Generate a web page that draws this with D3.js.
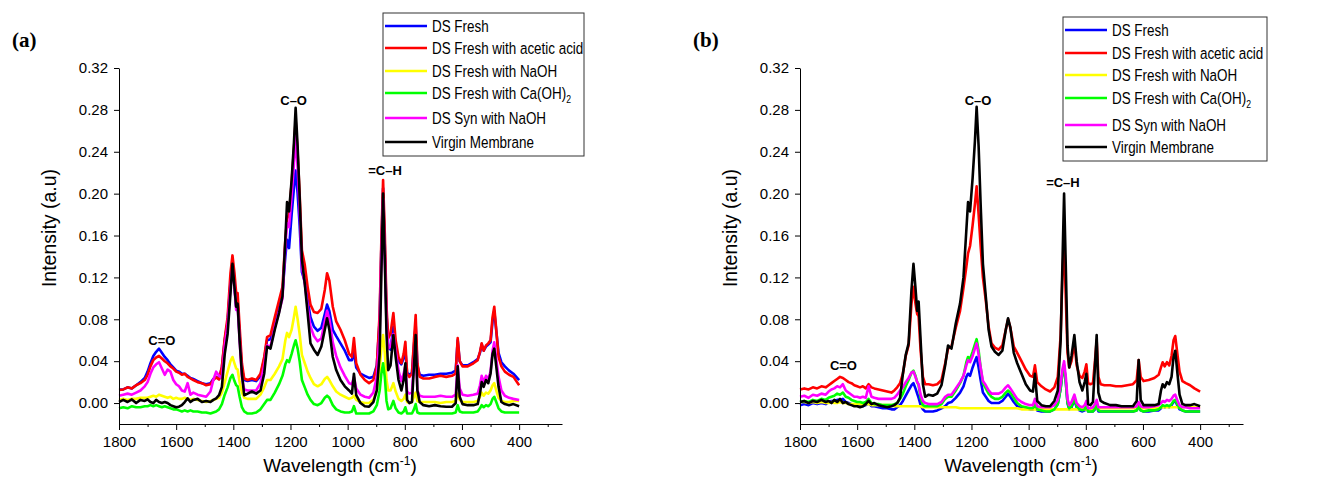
<!DOCTYPE html>
<html>
<head>
<meta charset="utf-8">
<script src="https://cdn.jsdelivr.net/npm/d3@7"></script>
<style>
  body { margin: 0; background: #fff; }
  svg { display: block; }
</style>
</head>
<body>
<svg id="chart" width="1325" height="484"></svg>
<script>

// wavenumber grid shared by every spectrum (cm-1)
const wavenumbers = [
  1800,1785,1770,1755,1740,1725,1710,1700,1690,1680,
  1670,1660,1650,1640,1630,1620,1610,1600,1590,1580,
  1570,1560,1550,1540,1525,1510,1495,1480,1470,1460,
  1450,1440,1430,1420,1410,1403,1396,1390,1385,1378,
  1370,1362,1350,1335,1320,1305,1292,1282,1270,1255,
  1240,1228,1218,1212,1205,1196,1188,1182,1175,1168,
  1160,1150,1140,1130,1118,1105,1092,1080,1072,1064,
  1052,1040,1025,1010,995,985,978,970,955,940,
  925,910,898,888,882,876,870,864,858,850,
  840,832,822,812,804,798,792,784,775,768,
  762,756,748,735,715,695,675,655,635,622,
  615,608,598,580,560,545,537,531,524,516,
  508,500,493,487,480,472,462,450,435,420,
  400]

const seriesNames = ['DS Fresh', 'DS Fresh with acetic acid', 'DS Fresh with NaOH',
                     'DS Fresh with Ca(OH)2', 'DS Syn with NaOH', 'Virgin Membrane']
const seriesColors = ['#0000ff', '#ff0000', '#ffff00', '#00ff00', '#ff00ff', '#000000']

// ---- panel (a) ----
const aFresh = [
  .013,.013,.015,.014,.017,.020,.024,.030,.038,.045,
  .049,.052,.048,.044,.041,.037,.034,.031,.030,.028,
  .028,.026,.024,.023,.021,.019,.018,.019,.023,.025,
  .023,.034,.060,.078,.115,.133,.112,.092,.097,.065,
  .033,.022,.021,.022,.021,.026,.042,.060,.061,.078,
  .093,.105,.140,.156,.148,.180,.205,.222,.200,.170,
  .125,.116,.098,.082,.073,.069,.072,.085,.094,.088,
  .070,.064,.057,.050,.041,.041,.049,.034,.028,.026,
  .024,.025,.036,.080,.150,.205,.150,.085,.055,.051,
  .073,.055,.040,.037,.043,.050,.029,.027,.029,.055,
  .075,.036,.027,.026,.027,.027,.028,.028,.029,.031,
  .060,.040,.036,.036,.039,.042,.048,.056,.050,.054,
  .056,.058,.078,.088,.069,.048,.039,.035,.031,.028,
  .022]
const aAcetic = [
  .0124,.013,.015,.014,.017,.019,.022,.027,.035,.041,
  .0435,.045,.0425,.040,.038,.035,.033,.030,.029,.027,
  .028,.025,.0235,.022,.020,.019,.017,.018,.022,.0245,
  .0225,.035,.062,.082,.124,.141,.124,.105,.105,.073,
  .038,.0235,.022,.0235,.022,.028,.044,.063,.065,.082,
  .098,.111,.156,.176,.180,.210,.242,.270,.239,.200,
  .146,.132,.111,.094,.087,.086,.090,.108,.124,.117,
  .092,.078,.070,.060,.047,.044,.062,.038,.027,.022,
  .019,.022,.035,.086,.156,.213,.162,.092,.062,.0665,
  .086,.060,.044,.038,.047,.0585,.028,.025,.028,.060,
  .084,.038,.025,.0235,.0235,.025,.026,.025,.026,.028,
  .062,.040,.035,.035,.038,.041,.049,.057,.050,.055,
  .057,.060,.082,.092,.070,.044,.035,.030,.027,.025,
  .017]
const aNaOH = [
  .003,.004,.003,.004,.004,.005,.005,.005,.006,.007,
  .006,.008,.007,.006,.005,.006,.004,.005,.004,.004,
  .005,.004,.003,.004,.003,.002,.001,.002,.003,.004,
  .005,.010,.020,.030,.040,.044,.038,.033,.032,.020,
  .010,.005,.004,.004,.004,.008,.015,.022,.022,.028,
  .035,.042,.060,.067,.063,.070,.082,.092,.080,.066,
  .046,.038,.030,.024,.018,.016,.018,.023,.025,.022,
  .016,.011,.008,.006,.004,.005,.007,.003,.001,0,
  0,.003,.012,.032,.052,.065,.048,.022,.012,.012,
  .019,.011,.004,.002,.004,.008,.001,0,.001,.006,
  .010,.002,.001,.001,.001,.001,0,.001,.001,.002,
  .009,.003,.001,.001,.001,.002,.006,.010,.007,.010,
  .009,.012,.017,.019,.012,.005,.002,.001,.001,.002,
  .002]
const aCaOH = [
  -.005,-.004,-.005,-.003,-.004,-.004,-.003,-.003,-.002,-.003,
  -.002,-.003,-.004,-.003,-.004,-.005,-.006,-.006,-.007,-.008,
  -.007,-.008,-.007,-.008,-.008,-.009,-.009,-.010,-.009,-.008,
  -.006,-.001,.008,.015,.024,.027,.021,.017,.016,.006,
  -.004,-.008,-.010,-.010,-.009,-.006,-.001,.003,.003,.010,
  .018,.026,.037,.041,.039,.047,.055,.060,.052,.040,
  .022,.015,.008,.003,-.001,-.002,0,.005,.007,.005,
  -.002,-.006,-.008,-.009,-.009,-.008,-.003,-.010,-.010,-.010,
  -.010,-.008,-.002,.012,.028,.038,.025,.002,-.006,-.005,
  .002,-.005,-.009,-.010,-.008,-.004,-.010,-.010,-.010,-.006,
  -.001,-.009,-.010,-.010,-.010,-.010,-.010,-.010,-.010,-.009,
  -.002,-.008,-.009,-.009,-.009,-.008,-.005,-.002,-.004,-.002,
  -.003,-.001,.004,.006,.001,-.005,-.008,-.009,-.009,-.009,
  -.009]
const aSyn = [
  .007,.008,.009,.008,.010,.012,.016,.020,.028,.034,
  .037,.039,.033,.027,.032,.030,.022,.018,.016,.012,
  .011,.019,.008,.010,.008,.007,.006,.011,.022,.030,
  .026,.024,.055,.075,.110,.130,.110,.089,.092,.060,
  .025,.013,.012,.012,.012,.019,.036,.055,.054,.072,
  .087,.100,.150,.172,.168,.198,.228,.255,.225,.185,
  .130,.114,.092,.073,.064,.059,.062,.078,.088,.080,
  .058,.045,.034,.026,.019,.018,.025,.014,.008,.006,
  .005,.010,.025,.068,.140,.195,.140,.075,.052,.054,
  .066,.050,.031,.021,.028,.036,.011,.009,.010,.040,
  .060,.012,.007,.006,.006,.006,.007,.006,.006,.008,
  .036,.014,.008,.007,.008,.009,.017,.026,.020,.026,
  .023,.030,.050,.058,.042,.025,.012,.007,.005,.004,
  .003]
const aVirgin = [
  .001,.003,.001,.0035,0,.003,.002,.0035,.001,0,
  .003,.001,0,.001,0,-.002,-.003,-.004,-.0035,-.002,
  .001,.0045,.001,.003,.004,.001,.002,.001,.003,.0045,
  .0075,.0155,.047,.066,.105,.133,.111,.092,.095,.060,
  .028,.0075,.009,.011,.009,.012,.028,.054,.052,.070,
  .086,.102,.156,.192,.183,.213,.248,.282,.245,.197,
  .137,.114,.086,.057,.051,.046,.054,.070,.081,.070,
  .044,.0315,.022,.016,.012,.009,.028,.0075,0,-.003,
  -.0035,.001,.012,.047,.124,.200,.137,.066,.0315,.036,
  .065,.044,.022,.012,.022,.038,.003,0,.001,.035,
  .065,.012,.001,-.002,-.003,-.002,-.003,-.0035,-.0035,0,
  .035,.006,-.001,-.002,-.002,-.001,.009,.020,.0155,.022,
  .019,.028,.047,.052,.035,.0155,.001,-.001,-.002,-.001,
  -.003]

// ---- panel (b) ----
const bFresh = [
  -.002,-.001,-.002,0,-.001,0,-.001,.001,.002,.002,
  .003,.003,.004,.001,0,-.001,-.002,-.002,-.002,-.003,
  -.002,0,-.003,-.003,-.004,-.005,-.005,-.006,-.006,-.004,
  -.002,.002,.007,.012,.017,.019,.014,.009,.005,-.002,
  -.006,-.008,-.008,-.008,-.007,-.005,-.003,0,.001,.005,
  .010,.016,.025,.028,.026,.034,.040,.044,.034,.022,
  .010,.006,.002,0,0,0,.002,.006,.009,.006,
  .001,-.003,-.005,-.005,-.006,-.006,-.002,-.007,-.008,-.008,
  -.008,-.006,-.001,.014,.028,.036,.020,0,-.006,-.004,
  .003,-.004,-.007,-.008,-.007,-.003,-.008,-.008,-.008,-.006,
  -.003,-.008,-.008,-.008,-.008,-.008,-.008,-.008,-.008,-.007,
  -.004,-.007,-.008,-.008,-.007,-.007,-.005,-.003,-.004,-.003,
  -.004,-.002,.001,.002,-.002,-.006,-.007,-.008,-.008,-.008,
  -.008]
const bAcetic = [
  .013,.014,.013,.015,.014,.016,.015,.017,.019,.021,
  .023,.025,.024,.022,.020,.019,.017,.016,.015,.016,
  .014,.018,.015,.014,.013,.012,.011,.010,.012,.015,
  .019,.028,.045,.055,.095,.111,.095,.085,.083,.050,
  .025,.018,.018,.017,.018,.022,.038,.052,.054,.072,
  .088,.110,.130,.143,.150,.170,.190,.207,.180,.150,
  .120,.098,.073,.057,.053,.051,.055,.070,.080,.072,
  .054,.048,.040,.032,.026,.025,.036,.020,.016,.013,
  .011,.015,.025,.065,.120,.155,.100,.048,.034,.040,
  .058,.036,.026,.024,.030,.037,.019,.018,.019,.040,
  .060,.025,.018,.017,.017,.016,.016,.017,.018,.022,
  .041,.025,.021,.022,.024,.027,.034,.039,.035,.039,
  .036,.045,.060,.064,.048,.030,.021,.019,.017,.014,
  .011]
const bNaOH = [
  .001,.001,0,.001,0,.001,0,0,.001,0,
  0,.001,0,0,-.001,-.001,-.001,-.001,-.001,-.002,
  -.001,-.001,-.002,-.002,-.002,-.002,-.002,-.002,-.003,-.003,
  -.003,-.003,-.003,-.003,-.003,-.003,-.003,-.003,-.003,-.003,
  -.004,-.004,-.004,-.004,-.004,-.004,-.004,-.004,-.004,-.004,
  -.005,-.005,-.005,-.005,-.005,-.005,-.005,-.005,-.005,-.005,
  -.005,-.005,-.005,-.005,-.005,-.005,-.005,-.005,-.005,-.005,
  -.005,-.005,-.006,-.006,-.006,-.006,-.006,-.006,-.006,-.006,
  -.006,-.006,-.006,-.006,-.006,-.006,-.006,-.006,-.006,-.006,
  -.006,-.006,-.006,-.006,-.006,-.006,-.006,-.006,-.005,-.005,
  -.005,-.005,-.005,-.005,-.005,-.005,-.005,-.005,-.005,-.005,
  -.005,-.005,-.005,-.005,-.005,-.005,-.004,-.004,-.004,-.004,
  -.004,-.004,-.004,-.004,-.004,-.004,-.004,-.004,-.004,-.004,
  -.004]
const bCaOH = [
  .001,.002,.001,.003,.002,.004,.003,.005,.006,.007,
  .009,.008,.010,.006,.005,.003,.002,.001,.001,0,
  .001,.004,0,-.001,-.001,-.002,-.002,-.002,-.001,0,
  .004,.009,.016,.022,.029,.031,.026,.020,.017,.005,
  -.002,-.003,-.003,-.003,-.003,-.001,.004,.006,.006,.012,
  .019,.026,.039,.044,.042,.049,.056,.061,.050,.034,
  .019,.014,.009,.006,.004,.004,.006,.010,.012,.010,
  .005,0,-.003,-.004,-.005,-.005,-.001,-.006,-.007,-.008,
  -.008,-.006,-.001,.014,.028,.035,.020,0,-.005,-.003,
  .004,-.003,-.006,-.007,-.006,-.002,-.008,-.008,-.008,-.005,
  -.002,-.007,-.008,-.008,-.008,-.008,-.008,-.008,-.008,-.007,
  -.003,-.007,-.008,-.007,-.007,-.006,-.004,-.002,-.003,-.002,
  -.003,-.001,.002,.003,-.001,-.005,-.007,-.008,-.008,-.008,
  -.008]
const bSyn = [
  .006,.007,.005,.008,.007,.009,.008,.011,.013,.014,
  .016,.015,.018,.012,.010,.008,.006,.006,.005,.006,
  .005,.016,.006,.005,.004,.004,.004,.004,.005,.008,
  .012,.015,.020,.024,.029,.030,.025,.020,.018,.008,
  .002,0,-.001,-.001,-.001,.001,.006,.008,.008,.014,
  .020,.026,.036,.041,.039,.045,.052,.057,.046,.034,
  .021,.017,.012,.009,.009,.009,.011,.015,.017,.014,
  .009,.004,.001,-.001,-.002,-.002,.004,-.003,-.004,-.004,
  -.004,-.002,.003,.018,.032,.040,.025,.004,-.002,.001,
  .008,0,-.003,-.004,-.002,.002,-.005,-.005,-.004,-.001,
  .003,-.004,-.004,-.004,-.004,-.004,-.004,-.004,-.004,-.003,
  .001,-.003,-.004,-.004,-.003,-.002,0,.002,.001,.003,
  .002,.004,.007,.008,.003,-.002,-.004,-.004,-.005,-.005,
  -.005]
const bVirgin = [
  .001,.002,0,.002,.001,.003,.001,.002,0,.003,
  .001,.004,0,.001,-.001,-.002,-.003,-.003,-.004,-.003,
  -.001,.002,-.001,0,-.002,-.003,-.004,-.003,-.002,0,
  .005,.028,.046,.057,.108,.133,.110,.088,.097,.060,
  .018,.006,.008,.007,.009,.017,.036,.055,.052,.076,
  .095,.120,.165,.192,.183,.215,.250,.283,.245,.190,
  .133,.102,.070,.054,.049,.046,.050,.070,.081,.072,
  .048,.038,.028,.018,.012,.011,.028,.002,-.002,-.003,
  -.003,.002,.012,.060,.130,.200,.130,.055,.034,.045,
  .065,.040,.020,.012,.020,.028,-.001,-.002,.001,.035,
  .065,.010,.002,0,-.002,-.002,-.003,-.003,-.003,.002,
  .041,.003,-.002,-.002,-.002,-.001,.012,.018,.015,.020,
  .018,.025,.044,.050,.030,.008,-.001,-.002,-.002,-.001,
  -.003]

const xTicks = [1800, 1600, 1400, 1200, 1000, 800, 600, 400]
const xMinorTicks = [1700, 1500, 1300, 1100, 900, 700, 500, 300]
const yTicks = [0, 0.04, 0.08, 0.12, 0.16, 0.20, 0.24, 0.28, 0.32]

// band labels: text, wavenumber, intensity of the text baseline
const bandLabelsA = [['C=O', 1650, 0.055], ['C\u2013O', 1189, 0.285], ['=C\u2013H', 869, 0.218]]
const bandLabelsB = [['C=O', 1648, 0.032], ['C\u2013O', 1177, 0.285], ['=C\u2013H', 880, 0.206]]

const font = '"Liberation Sans", Arial, sans-serif'
const svg = d3.select('#chart')

function panel(opts) {

    const x = d3.scaleLinear().domain([1800, 250]).range([opts.left, opts.left + 443])
    const y = d3.scaleLinear().domain([-0.02, 0.32]).range([424, 68])

    const g = svg.append('g')

    // spectra, drawn in legend order so black ends up on top
    const line = d3.line().x(d => x(d[0])).y(d => y(d[1]))
    opts.series.forEach((vals, i) => {
        g.append('path')
            .datum(wavenumbers.map((w, k) => [w, vals[k]]))
            .attr('fill', 'none')
            .attr('stroke', seriesColors[i])
            .attr('stroke-width', 2.6)
            .attr('stroke-linejoin', 'round')
            .attr('d', line)
    })

    // axes
    g.append('g')
        .attr('transform', 'translate(0,424)')
        .call(d3.axisBottom(x).tickValues(xMinorTicks).tickSize(3).tickFormat(''))
        .call(a => a.select('.domain').remove())

    g.append('g')
        .attr('transform', 'translate(0,424)')
        .call(d3.axisBottom(x).tickValues(xTicks).tickFormat(d3.format('d'))
                .tickSize(6).tickSizeOuter(0).tickPadding(6))
        .call(a => a.selectAll('text').attr('font-size', '15px').attr('font-family', font).attr('fill', '#000'))

    g.append('g')
        .attr('transform', `translate(${opts.left},0)`)
        .call(d3.axisLeft(y).tickValues(yTicks).tickFormat(d3.format('.2f'))
                .tickSize(5).tickSizeOuter(0).tickPadding(6))
        .call(a => a.selectAll('text').attr('font-size', '15px').attr('font-family', font).attr('fill', '#000'))

    g.selectAll('.domain, .tick line').attr('stroke', '#000')

    // axis titles
    const xt = g.append('text')
        .attr('x', opts.left + 221)
        .attr('y', 472)
        .attr('text-anchor', 'middle')
        .attr('font-family', font)
        .attr('font-size', '19px')
    xt.append('tspan').text('Wavelength (cm')
    xt.append('tspan').attr('font-size', '12px').attr('dy', -7).text('-1')
    xt.append('tspan').attr('dy', 7).text(')')

    g.append('text')
        .attr('transform', `translate(${opts.left - 63},${228}) rotate(-90)`)
        .attr('text-anchor', 'middle')
        .attr('font-family', font)
        .attr('font-size', '19.5px')
        .text('Intensity (a.u)')

    // panel letter
    g.append('text')
        .attr('x', opts.left - 107)
        .attr('y', 47)
        .attr('font-family', '"Liberation Serif", "Times New Roman", serif')
        .attr('font-weight', 'bold')
        .attr('font-size', '21px')
        .text(opts.letter)

    // band labels
    opts.bands.forEach(b => {
        g.append('text')
            .attr('x', x(b[1]))
            .attr('y', y(b[2]))
            .attr('text-anchor', 'middle')
            .attr('font-family', font)
            .attr('font-weight', 'bold')
            .attr('font-size', '13px')
            .text(b[0])
    })

    // legend
    const lg = opts.legend
    g.append('rect')
        .attr('x', lg.left).attr('y', lg.top)
        .attr('width', lg.width).attr('height', lg.height)
        .attr('fill', '#fff')
        .attr('stroke', '#333')
        .attr('stroke-width', 1)

    seriesNames.forEach((name, i) => {
        const ry = lg.rows[i]
        g.append('line')
            .attr('x1', lg.left + 2).attr('x2', lg.left + 44)
            .attr('y1', ry).attr('y2', ry)
            .attr('stroke', seriesColors[i])
            .attr('stroke-width', 2.5)
        const t = g.append('text')
            .attr('transform', `translate(${lg.left + 49},${ry + 6}) scale(0.79,1)`)
            .attr('font-family', font)
            .attr('font-size', '17px')
        if (name.endsWith('2')) {
            t.append('tspan').text(name.slice(0, -1))
            t.append('tspan').attr('font-size', '11px').attr('dy', 4).text('2')
        } else {
            t.text(name)
        }
    })
}

panel({
    left: 119,
    letter: '(a)',
    series: [aFresh, aAcetic, aNaOH, aCaOH, aSyn, aVirgin],
    bands: bandLabelsA,
    legend: {left: 383, top: 13, width: 201, height: 143, rows: [26, 48, 71, 93, 118, 142]}
})

panel({
    left: 800,
    letter: '(b)',
    series: [bFresh, bAcetic, bNaOH, bCaOH, bSyn, bVirgin],
    bands: bandLabelsB,
    legend: {left: 1063, top: 17, width: 204, height: 144, rows: [30, 53, 75, 98, 125, 147]}
})

</script>
</body>
</html>
